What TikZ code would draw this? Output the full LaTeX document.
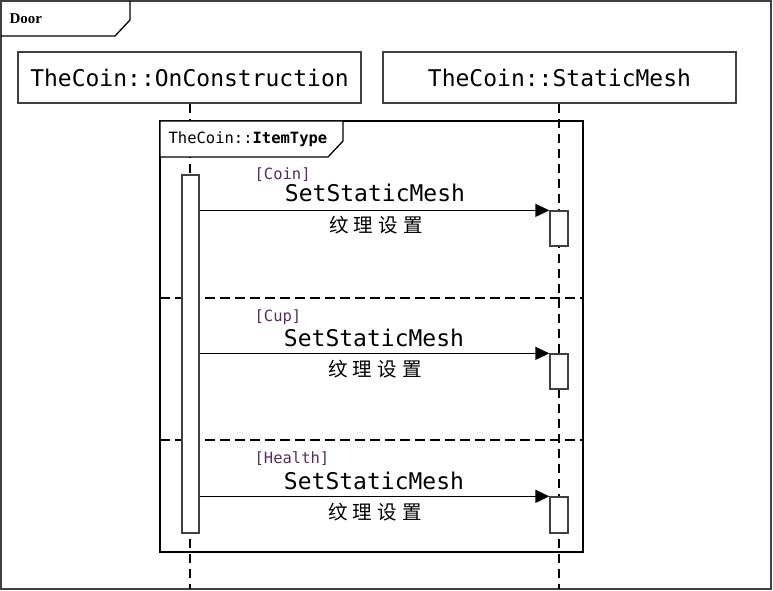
\documentclass[tikz,border=0pt]{standalone}
\usepackage{fontspec}
\setmonofont{DejaVu Sans Mono}
\newfontfamily\cjk{Noto Sans CJK SC}
\newfontfamily\doorfont{Liberation Serif}
\usetikzlibrary{arrows.meta}
\definecolor{guardc}{RGB}{85,45,95}
\begin{document}
\begin{tikzpicture}[x=1pt,y=-1pt,line width=1.3pt,
  lbox/.style={draw=black!75,fill=white,inner sep=0pt,minimum height=51pt,
    font=\ttfamily\fontsize{23}{28}\selectfont},
  actbox/.style={draw=black!75,fill=white,inner sep=0pt,minimum width=18pt},
  lifeline/.style={dash pattern=on 9pt off 6pt},
  sep/.style={dash pattern=on 10pt off 5pt},
  msg/.style={-{Triangle[length=14pt,width=13pt]}},
  guard/.style={anchor=west,inner sep=0pt,text=guardc,
    font=\ttfamily\fontsize{15.5}{18}\selectfont},
  mname/.style={inner sep=0pt,font=\ttfamily\fontsize{23}{28}\selectfont},
  cjkt/.style={inner sep=0pt,font=\cjk\fontsize{19.5}{24}\selectfont}]
\useasboundingbox (0,0) rectangle (773,591);
% outer frame
\draw[draw=black!75] (1,1) rectangle (771,589);
\draw (1,36) -- (115,36) -- (130,20) -- (130,1);
\node[anchor=west,inner sep=0pt,font=\doorfont\bfseries\fontsize{15}{17}\selectfont] (door) at (9,19) {Door};
% lifeline end coordinates
\coordinate (e1) at (190,589);
\coordinate (e2) at (559,589);
% lifeline headers
\node[lbox,minimum width=343pt] (L1) at (189.5,77.5) {TheCoin::OnConstruction};
\node[lbox,minimum width=353pt] (L2) at (559.5,77.5) {TheCoin::StaticMesh};
\draw[lifeline] (L1.south -| e1) -- (e1);
\draw[lifeline] (L2.south -| e2) -- (e2);
% combined fragment
\draw (160,121) rectangle (583,552);
\draw[fill=white] (160,121) -- (160,157) -- (328,157) -- (343,141) -- (343,121) -- cycle;
\node[anchor=west,inner sep=0pt,font=\ttfamily\fontsize{15.5}{18}\selectfont] (frag) at (168,139) {TheCoin::\textbf{ItemType}};
\draw[sep] (160,298) -- (583,298);
\draw[sep] (160,440) -- (583,440);
% activations
\node[actbox,minimum width=17pt,minimum height=358pt] (A0) at (190.5,354) {};
\node[actbox,minimum height=35pt] (B1) at (559,228.5) {};
\node[actbox,minimum height=35pt] (B2) at (559,371.5) {};
\node[actbox,minimum height=36pt] (B3) at (559,515) {};
% messages
\draw[msg] (A0.east |- B1.north) -- (B1.north west);
\draw[msg] (A0.east |- B2.north) -- (B2.north west);
\draw[msg] (A0.east |- B3.north) -- (B3.north west);
% labels
\node[guard] (g1) at (254,175) {[Coin]};
\node[guard] (g2) at (254,317) {[Cup]};
\node[guard] (g3) at (254,459) {[Health]};
\node[mname] (n1) at (375,193) {SetStaticMesh};
\node[mname] (n2) at (374,338) {SetStaticMesh};
\node[mname] (n3) at (374,481) {SetStaticMesh};
\node[cjkt] (c1) at (376,225) {纹\hspace{5pt}理\hspace{5pt}设\hspace{5pt}置};
\node[cjkt] (c2) at (375,369) {纹\hspace{5pt}理\hspace{5pt}设\hspace{5pt}置};
\node[cjkt] (c3) at (375,512) {纹\hspace{5pt}理\hspace{5pt}设\hspace{5pt}置};
\end{tikzpicture}
\end{document}
